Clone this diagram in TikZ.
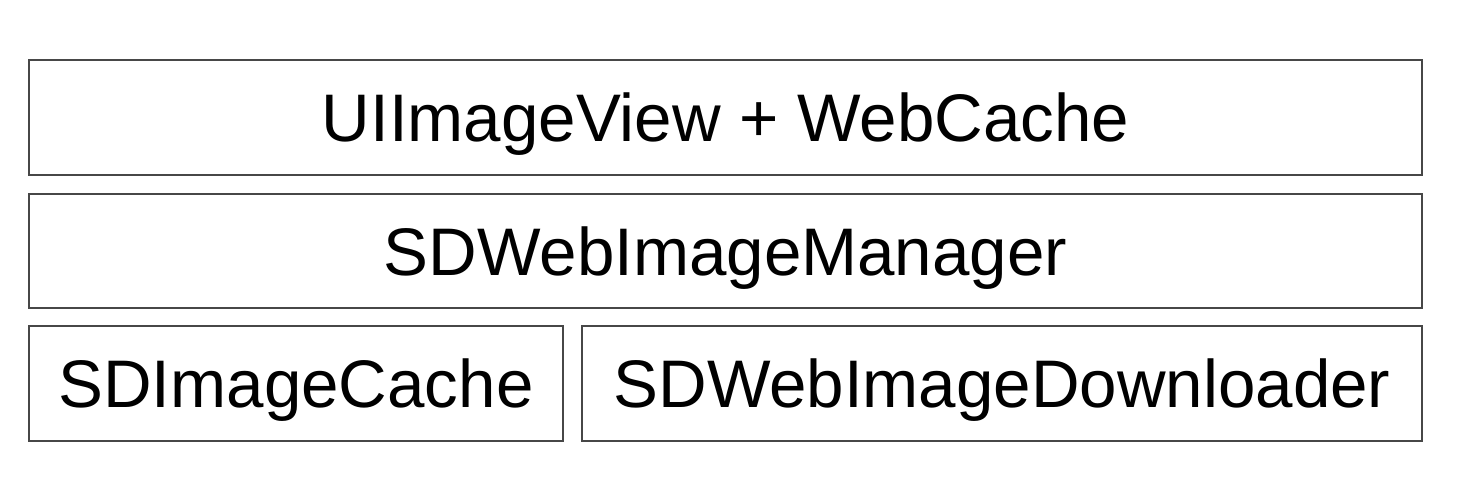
\documentclass[tikz,border=0pt]{standalone}
\usepackage{fontspec}
\setmainfont{Liberation Sans}
\begin{document}
\begin{tikzpicture}[x=1pt,y=-1pt,
  layerbox/.style={draw=black!72,line width=2pt,fill=white,inner sep=0pt,
    font=\fontsize{67.3}{72}\selectfont,text=black,text height=48pt,text depth=0pt}]
\useasboundingbox (0,0) rectangle (1466,484);
\node[layerbox,minimum width=1393pt,minimum height=114pt] (top) at (725.5,117.5) {UIImageView + WebCache};
\node[layerbox,minimum width=1393pt,minimum height=114pt] (mgr) at (725.5,251) {SDWebImageManager};
\node[layerbox,minimum width=534pt,minimum height=115pt] (cache) at (296,383.5) {SDImageCache};
\node[layerbox,minimum width=840pt,minimum height=115pt] (dl) at (1002,383.5) {SDWebImageDownloader};
\end{tikzpicture}
\end{document}
